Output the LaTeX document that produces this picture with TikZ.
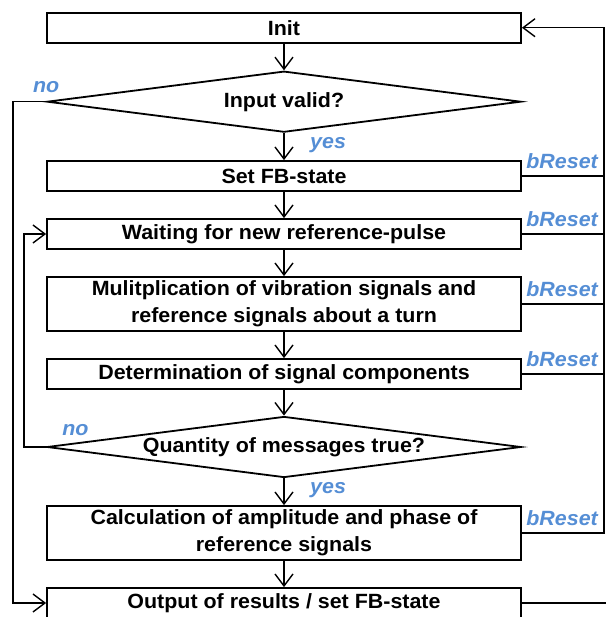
\documentclass[tikz,border=0pt]{standalone}
\usepackage{fontspec}
\setmainfont{Liberation Sans}[FakeStretch=1.04]
\usetikzlibrary{arrows.meta,positioning,shapes.geometric}
\definecolor{branchblue}{RGB}{85,142,213}
\newcommand{\flowfont}{\fontsize{20.6}{27}\selectfont\bfseries}
\pgfmathsetmacro{\flowwidth}{474}
\pgfmathsetmacro{\flowcentre}{284}
\tikzset{
  stepbox/.style={draw, line width=1.8pt, minimum width=\flowwidth pt,
    minimum height=30pt, inner sep=0pt, align=center, font=\flowfont},
  decision/.style={diamond, draw, line width=1.8pt, aspect=7.8,
    minimum width=\flowwidth pt, minimum height=61pt, inner sep=0pt, font=\flowfont},
  flow/.style={line width=1.4pt, -{Straight Barb[length=12pt, width=18pt]}},
  wire/.style={line width=1.4pt},
  branch/.style={inner sep=0pt, text=branchblue,
    font=\fontsize{20.6}{27}\selectfont\bfseries\itshape},
}

\begin{document}
\begin{tikzpicture}[x=1pt, y=-1pt]
  \useasboundingbox (0,0) rectangle (606,617);
  % define steps
  \node[stepbox] (init) at (\flowcentre,27.7) {Init};
  \node[decision] (valid) at (\flowcentre,101.7) {Input valid?};
  \node[stepbox] (setfb) at (\flowcentre,176) {Set FB-state};
  \node[stepbox] (wait) at (\flowcentre,234) {Waiting for new reference-pulse};
  \node[stepbox, minimum height=54pt] (mult) at (\flowcentre,304)
    {Mulitplication of vibration signals and\\reference signals about a turn};
  \node[stepbox] (determ) at (\flowcentre,374) {Determination of signal components};
  \node[decision] (quantity) at (\flowcentre,447) {Quantity of messages true?};
  \node[stepbox, minimum height=54pt] (calc) at (\flowcentre,533)
    {Calculation of amplitude and phase of\\reference signals};
  \node[stepbox] (output) at (\flowcentre,603) {Output of results / set FB-state};
  % side lines
  \coordinate (outer) at (13,0);
  \coordinate (inner) at (24,0);
  \coordinate (bus) at (604,0);
  \coordinate (rim) at (606,0);
  % draw flow
  \draw[flow] (init) -- (valid);
  \draw[flow] (valid) -- (setfb);
  \draw[flow] (setfb) -- (wait);
  \draw[flow] (wait) -- (mult);
  \draw[flow] (mult) -- (determ);
  \draw[flow] (determ) -- (quantity);
  \draw[flow] (quantity) -- (calc);
  \draw[flow] (calc) -- (output);
  \draw[flow] (valid.west) -- (valid.west -| outer) |- (output.west);
  \draw[flow] (quantity.west) -- (quantity.west -| inner) |- (wait.west);
  \draw[flow] (calc.east) -- (calc.east -| bus) |- (init.east);
  \foreach \step in {setfb, wait, mult, determ}
    \draw[wire] (\step.east) -- (\step.east -| bus);
  \draw[wire] (output.east) -- (output.east -| rim);
  % add labels
  \foreach \step in {setfb, wait, mult, determ, calc} {
    \coordinate (\step-bus) at (\step.east -| bus);
    \node[branch, above left=7pt and 6pt of \step-bus] {bReset};
  }
  \node[branch, above=9pt of valid.west] (novalid) {no};
  \node[branch, above right=11pt and 16pt of quantity.west] (noquantity) {no};
  \node[branch, below right=4pt and 26pt of valid.south] (yesvalid) {yes};
  \node[branch, below right=4pt and 26pt of quantity.south] (yesquantity) {yes};
\end{tikzpicture}
\end{document}
